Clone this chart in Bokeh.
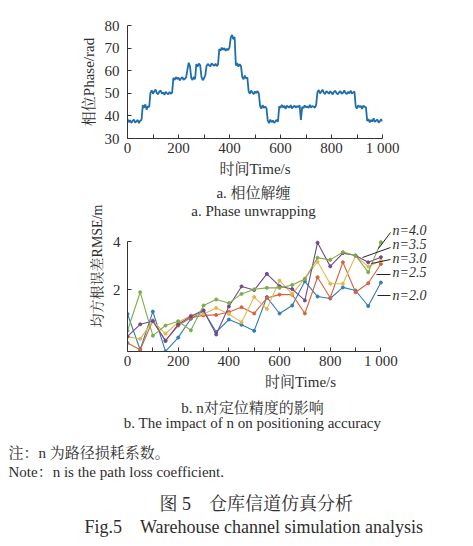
from bokeh.plotting import figure
from bokeh.layouts import column
from bokeh.models import Range1d, FixedTicker, Label
from bokeh.embed import file_html
from bokeh.resources import INLINE

# ---------------- data ----------------
phase_time = [5 * i for i in range(201)]
phase = [
    38.6, 37.2, 38.1, 36.9, 37.8, 38.4, 37.0, 37.6, 38.2, 36.8, 37.9, 38.3,
    44.8, 43.6, 45.1, 42.8, 44.3, 43.9,
    50.2, 51.3, 49.8, 50.9, 51.6, 50.1, 49.6, 50.8, 51.2, 49.9, 50.4, 49.3, 50.7, 50.0, 49.5, 50.6, 49.8, 50.3,
    56.8, 55.9, 57.2, 56.3, 56.9, 55.7, 56.6, 57.1, 56.0, 56.4, 57.0,
    60.5, 63.5, 62.0,
    56.8, 55.9, 57.3, 56.2,
    62.9, 61.8, 63.2, 62.4,
    57.4, 55.8, 56.6, 57.9,
    62.1, 63.0, 62.4, 61.9, 63.3, 62.6, 62.2, 63.1, 62.0, 62.8,
    69.6, 68.9, 70.2, 69.3, 70.0, 68.8, 69.7, 69.1, 70.3,
    74.6, 75.8, 73.9, 74.9,
    62.3, 63.4, 61.8, 62.9, 62.1,
    57.3, 56.2, 57.8, 56.6, 57.0,
    50.9, 49.8, 51.2, 50.3, 49.6, 50.8, 50.1, 51.0, 49.9,
    44.3, 43.2, 44.8, 43.6, 44.1, 43.4,
    37.9, 36.8, 38.4, 37.2, 38.0, 36.9, 37.6, 38.3, 37.4,
    44.2, 43.5, 44.9, 43.8, 44.4, 43.1, 44.6, 44.0, 43.7, 44.8, 43.3, 44.1, 44.5, 43.6, 44.3, 43.9, 44.7,
    38.2,
    44.0, 43.4, 44.6, 43.8, 44.2, 43.5, 44.9, 43.7, 44.3, 44.1, 43.6, 45.0,
    50.6, 51.4, 49.9, 50.8, 51.6, 50.2, 49.7, 51.0, 50.4, 49.8, 50.9, 50.3, 49.5, 50.7, 51.1,
    50.0, 49.6, 50.5, 50.9, 49.8, 50.2, 51.3, 50.1, 49.7, 50.6, 50.0, 51.2, 49.9, 50.4, 50.8,
    44.2, 43.3, 44.7, 43.9, 44.4, 43.1, 44.6, 44.0, 43.8,
    37.8, 38.6, 37.1, 38.2, 37.5, 38.9, 37.3, 37.9, 38.4, 37.0, 37.7, 38.5, 37.6,
]

rmse_time = [0, 50, 100, 150, 200, 250, 300, 350, 400, 450, 500,
             550, 600, 650, 700, 750, 800, 850, 900, 950, 1000]
rmse_n20 = [1.0, -0.48, 1.1, -0.55, 0.02, 0.8, 1.12, 0.25, 0.77, 0.55, 0.3,
            1.7, 1.02, 1.35, 2.35, 1.72, 1.64, 2.1, 1.97, 1.33, 2.3]
rmse_n25 = [-0.2, -0.48, 0.73, -0.1, 0.52, 0.84, 0.94, 0.96, 1.08, 1.28, 1.02,
            1.66, 1.8, 1.8, 1.02, 2.52, 1.67, 3.14, 1.9, 2.27, 3.07]
rmse_n30 = [0.05, -0.03, 0.7, 0.18, 0.66, 0.94, 1.0, 1.25, 1.0, 0.66, 1.7,
            1.21, 2.38, 1.83, 2.47, 3.16, 2.25, 2.25, 3.4, 2.96, 3.2]
rmse_n35 = [0.07, 0.57, 0.7, -0.12, 0.57, 0.9, 1.15, 0.15, 1.31, 2.14, 1.99,
            2.66, 2.15, 2.03, 1.56, 3.95, 2.97, 3.52, 3.42, 3.14, 3.35]
rmse_n40 = [0.3, 1.9, 0.1, 0.52, 0.7, 0.32, 1.35, 1.6, 1.45, 1.83, 2.02,
            2.08, 2.08, 2.2, 2.45, 3.33, 3.24, 3.56, 3.42, 2.73, 3.97]
series_values = [rmse_n20, rmse_n25, rmse_n30, rmse_n35, rmse_n40]
series_labels = ["n=2.0", "n=2.5", "n=3.0", "n=3.5", "n=4.0"]
series_colors = ["#2f7db5", "#d4643c", "#e6b64e", "#74488c", "#7eab4c"]

x_ticks = [0, 200, 400, 600, 800, 1000]
x_minor_ticks = [100, 300, 500, 700, 900]
x_tick_labels = ["0", "200", "400", "600", "800", "1 000"]
phase_ticks = [30, 40, 50, 60, 70, 80]
rmse_ticks = [2, 4]

# ---------------- style ----------------
FONT = "Liberation Serif, Noto Serif CJK SC, Noto Sans CJK SC, serif"
TXT = "#2e2e2e"
AX = "#333333"
W = 473


def no_align(p):
    if hasattr(p, "frame_align"):
        p.frame_align = False


def style(p, ylabel, y_standoff, y_label_standoff, ylabel_size):
    p.xgrid.visible = False
    p.ygrid.visible = False
    p.outline_line_color = None
    p.background_fill_color = "white"
    p.border_fill_color = "white"
    for ax in (p.xaxis[0], p.yaxis[0]):
        ax.axis_line_color = AX
        ax.major_tick_line_color = AX
        ax.minor_tick_line_color = AX
        ax.major_tick_in = 4
        ax.major_tick_out = 0
        ax.minor_tick_in = 4
        ax.minor_tick_out = 0
        ax.major_label_text_font = FONT
        ax.major_label_text_font_size = "15px"
        ax.major_label_text_color = TXT
        ax.axis_label_text_font = FONT
        ax.axis_label_text_font_style = "normal"
        ax.axis_label_text_color = TXT
    xa = p.xaxis[0]
    xa.ticker = FixedTicker(ticks=x_ticks, minor_ticks=x_minor_ticks)
    xa.major_label_overrides = dict(zip(x_ticks, x_tick_labels))
    xa.axis_label = "时间Time/s"
    xa.axis_label_text_font_size = "15px"
    xa.major_label_standoff = 1
    xa.axis_label_standoff = 2
    ya = p.yaxis[0]
    ya.axis_label = ylabel
    ya.axis_label_text_font_size = ylabel_size
    ya.major_label_standoff = y_standoff
    ya.axis_label_standoff = y_label_standoff
    no_align(p)


def label(p, x, y, text, size="15px", align="center", style_="normal"):
    p.add_layout(Label(x=x, y=y, text=text, text_font=FONT, text_font_size=size,
                       text_font_style=style_, text_color=TXT, text_align=align,
                       text_baseline="middle"))


def text_panel(height):
    p = figure(width=W, height=height, x_range=Range1d(0, W), y_range=Range1d(height, 0),
               output_backend="svg", toolbar_location=None,
               x_axis_location=None, y_axis_location=None,
               min_border_left=0, min_border_right=0, min_border_top=0, min_border_bottom=0)
    p.xgrid.visible = False
    p.ygrid.visible = False
    p.outline_line_color = None
    p.border_fill_color = "white"
    no_align(p)
    return p


# ---------------- figure a ----------------
H1 = 180
F1_L, F1_R, F1_T, F1_B = 127, 382, 25, 138
p1 = figure(width=W, height=H1, x_range=Range1d(0, 1000), y_range=Range1d(30, 80),
            output_backend="svg", toolbar_location=None,
            min_border_left=F1_L, min_border_right=W - F1_R,
            min_border_top=F1_T, min_border_bottom=H1 - F1_B)
p1.line(phase_time, phase, line_color="#1f6eab", line_width=1.8)
style(p1, "相位Phase/rad", 8, 5, "15px")
p1.yaxis[0].ticker = FixedTicker(ticks=phase_ticks)

# ---------------- figure b (frame extends upward to hold caption a) ----------------
TOP2 = H1
F2_BOTTOM_PAGE = 351
BOTTOM2 = 392
H2 = BOTTOM2 - TOP2
F2_L, F2_R = 127, 473
PX_PER_S = 0.2534
PX_PER_U = 24.15
ZERO_PAGE = 337.6
X2_END = (F2_R - F2_L) / PX_PER_S
Y2_START = -(F2_BOTTOM_PAGE - ZERO_PAGE) / PX_PER_U
Y2_END = (ZERO_PAGE - TOP2) / PX_PER_U

p2 = figure(width=W, height=H2, x_range=Range1d(0, X2_END), y_range=Range1d(Y2_START, Y2_END),
            output_backend="svg", toolbar_location=None,
            min_border_left=F2_L, min_border_right=W - F2_R,
            min_border_top=0, min_border_bottom=BOTTOM2 - F2_BOTTOM_PAGE)
style(p2, "均方根误差RMSE/m", 7, 5, "14px")
p2.yaxis[0].ticker = FixedTicker(ticks=rmse_ticks)
p2.xaxis[0].bounds = (0, 1000)
p2.yaxis[0].bounds = (Y2_START, 4)

for vals, col in zip(series_values, series_colors):
    p2.line(rmse_time, vals, line_color=col, line_width=1.1)
    p2.scatter(rmse_time, vals, size=3, color=col)


def p2x(px):
    return (px - F2_L) / PX_PER_S


def p2y(py):
    return (ZERO_PAGE - py) / PX_PER_U


# caption of panel a (inside the extended frame of p2)
label(p2, p2x(253), p2y(192), "a. 相位解缠")
label(p2, p2x(253), p2y(210), "a. Phase unwrapping")

# leader lines (page pixel positions) and series labels
leaders = [
    ((377, 295), (390, 295)),      # n=2.0
    ((376, 274), (390, 274)),      # n=2.5
    ((371, 263), (390, 259)),      # n=3.0
    ((362, 257), (390, 247)),      # n=3.5
    ((378, 248), (390, 232)),      # n=4.0
]
label_py = [295, 272, 258, 244, 230]
p2.segment(x0=[p2x(a[0]) for a, b in leaders], y0=[p2y(a[1]) for a, b in leaders],
           x1=[p2x(b[0]) for a, b in leaders], y1=[p2y(b[1]) for a, b in leaders],
           line_color="#222222", line_width=1)
for txt, py in zip(series_labels, label_py):
    label(p2, p2x(392), p2y(py), txt, size="14px", align="left", style_="italic")

# ---------------- captions / notes ----------------
H3 = 546 - BOTTOM2
p3 = text_panel(H3)
label(p3, 252, 407 - BOTTOM2, "b. n对定位精度的影响")
label(p3, 252, 422 - BOTTOM2, "b. The impact of n on positioning accuracy")
label(p3, 8, 452 - BOTTOM2, "注：n 为路径损耗系数。", align="left")
label(p3, 8, 471 - BOTTOM2, "Note：n is the path loss coefficient.", align="left")
label(p3, 159, 503 - BOTTOM2, "图 5\u2003仓库信道仿真分析", size="18px", align="left")
label(p3, 84, 526 - BOTTOM2, "Fig.5\u2003Warehouse channel simulation analysis", size="18px", align="left")

layout = column(p1, p2, p3, spacing=0)
open("out.html", "w").write(file_html(layout, INLINE))
